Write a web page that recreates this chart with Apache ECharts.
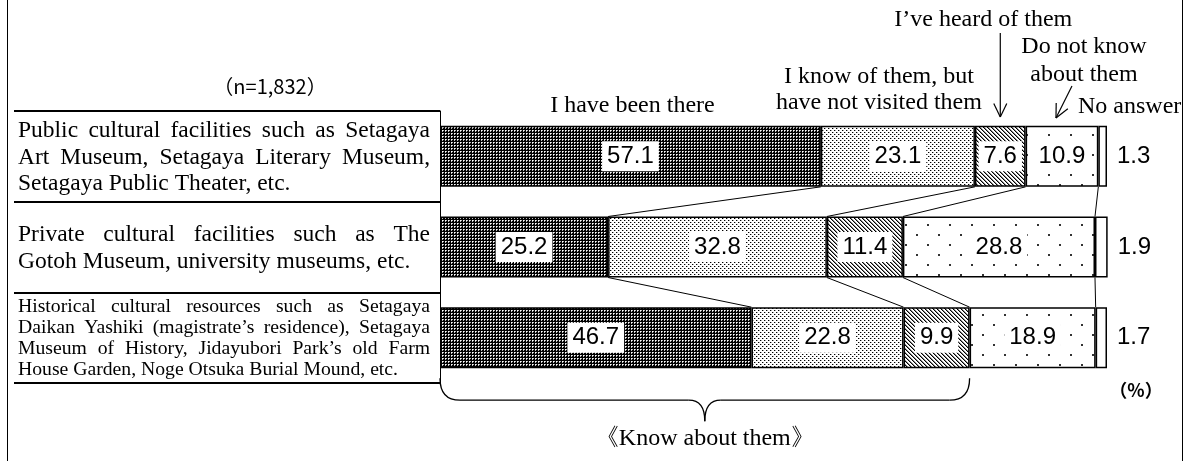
<!DOCTYPE html>
<html><head><meta charset="utf-8">
<script src="https://cdn.jsdelivr.net/npm/echarts@6/dist/echarts.min.js"></script>
<style>html,body{margin:0;padding:0;background:#fff}#c{width:1187px;height:461px}</style>
</head><body><div id="c"></div>
<script>
// ---------- data ----------
const categories = ['Public cultural facilities', 'Private cultural facilities', 'Historical cultural resources'];
const categoryLines = [
  ['Public cultural facilities such as Setagaya', 'Art Museum, Setagaya Literary Museum,', 'Setagaya Public Theater, etc.'],
  ['Private cultural facilities such as The', 'Gotoh Museum, university museums, etc.'],
  ['Historical cultural resources such as Setagaya', 'Daikan Yashiki  (magistrate’s residence), Setagaya', 'Museum of History, Jidayubori Park’s old Farm', 'House Garden, Noge Otsuka Burial Mound, etc.']
];
const seriesNames = ['I have been there', 'I know of them, but\nhave not visited them', 'I’ve heard of them', 'Do not know\nabout them', 'No answer'];
const beenThere = [57.1, 25.2, 46.7];
const knowNotVisited = [23.1, 32.8, 22.8];
const heardOf = [7.6, 11.4, 9.9];
const doNotKnow = [10.9, 28.8, 18.9];
const noAnswer = [1.3, 1.9, 1.7];
const sampleLabel = '（n=1,832）';
const unitLabel = '（%）';
const braceLabel = '《Know about them》';

// ---------- styles ----------
const SERIF = '"Liberation Serif", "Times New Roman", serif';
const NUM = '"Liberation Sans Narrow", "Arial Narrow", "Liberation Sans", sans-serif';
const GOTHIC = '"Noto Sans CJK JP", sans-serif';
const BAR_W = 61;

function makePattern(w, h, draw) {
  const c = document.createElement('canvas');
  c.width = w; c.height = h;
  const ctx = c.getContext('2d');
  draw(ctx);
  return { image: c, repeat: 'repeat' };
}
const pat1 = makePattern(3, 3, ctx => {
  ctx.fillStyle = '#000'; ctx.fillRect(0, 0, 3, 3);
  ctx.fillStyle = '#fff'; ctx.fillRect(1, 1, 1, 1);
  ctx.fillStyle = '#bbb'; ctx.fillRect(2, 1, 1, 1); ctx.fillRect(1, 2, 1, 1);
});
const pat2 = makePattern(4, 4, ctx => {
  ctx.fillStyle = '#fff'; ctx.fillRect(0, 0, 4, 4);
  ctx.fillStyle = '#000'; ctx.fillRect(0, 0, 1, 1); ctx.fillRect(2, 2, 1, 1);
  ctx.fillStyle = '#aaa'; ctx.fillRect(1, 0, 1, 1); ctx.fillRect(3, 2, 1, 1);
});
const pat3 = makePattern(4, 4, ctx => {
  ctx.fillStyle = '#fff'; ctx.fillRect(0, 0, 4, 4);
  for (let y = 0; y < 4; y++) for (let x = 0; x < 4; x++) {
    const d = ((x - y) % 4 + 4) % 4;
    if (d === 0) { ctx.fillStyle = '#000'; ctx.fillRect(x, y, 1, 1); }
    else if (d === 1) { ctx.fillStyle = '#888'; ctx.fillRect(x, y, 1, 1); }
  }
});
const pat4 = makePattern(22, 20, ctx => {
  ctx.fillStyle = '#fff'; ctx.fillRect(0, 0, 22, 20);
  ctx.fillStyle = '#333'; ctx.fillRect(3, 4, 2, 2); ctx.fillRect(14, 14, 2, 2);
});
const fills = [pat1, pat2, pat3, pat4, '#fff'];
const seriesData = [beenThere, knowNotVisited, heardOf, doNotKnow, noAnswer];

const chart = echarts.init(document.getElementById('c'));

// cumulative boundaries per category
const cum = categories.map((_, i) => {
  const arr = [0];
  seriesData.forEach(s => arr.push(+(arr[arr.length - 1] + s[i]).toFixed(1)));
  return arr;
});
const connectorData = [];
for (let i = 0; i < categories.length - 1; i++) {
  for (let k = 1; k <= 4; k++) connectorData.push([cum[i][k], cum[i + 1][k], i]);
}

const barSeries = seriesData.map((data, idx) => ({
  name: seriesNames[idx],
  type: 'bar',
  stack: 'total',
  barWidth: BAR_W,
  clip: false,
  data: data,
  itemStyle: { color: fills[idx], borderColor: '#000', borderWidth: 1.5 },
  label: idx < 4 ? {
    show: true, position: 'inside',
    formatter: p => p.value.toFixed(1),
    fontFamily: NUM, fontSize: 24, color: '#000',
    backgroundColor: '#fff', padding: [4, 5, 2, 5]
  } : {
    show: true, position: 'right', distance: 10,
    formatter: p => p.value.toFixed(1),
    fontFamily: NUM, fontSize: 24, color: '#000'
  }
}));

chart.setOption({
  animation: false,
  grid: { left: 440, right: 80, top: 111, bottom: 78 },
  xAxis: { type: 'value', min: 0, max: 100, show: false },
  yAxis: {
    type: 'category', inverse: true, data: categories,
    axisLine: { show: true, lineStyle: { color: '#000', width: 1 } },
    axisTick: { show: true, length: 426, lineStyle: { color: '#000', width: 2 } },
    axisLabel: { show: false },
    splitLine: { show: false }
  },
  series: barSeries.concat([{
    type: 'custom',
    data: connectorData,
    encode: { x: [0, 1], y: 2 },
    z: 1,
    silent: true,
    renderItem: (params, api) => {
      const a = api.coord([api.value(0), api.value(2)]);
      const b = api.coord([api.value(1), api.value(2) + 1]);
      return { type: 'line', shape: { x1: a[0], y1: a[1] + BAR_W / 2, x2: b[0], y2: b[1] - BAR_W / 2 },
               style: { stroke: '#000', lineWidth: 1 } };
    }
  }])
});

// ---------- annotations ----------
const xp = v => chart.convertToPixel({ xAxisIndex: 0 }, v);
const yp = i => chart.convertToPixel({ yAxisIndex: 0 }, i);
const mctx = document.createElement('canvas').getContext('2d');
const g = [];
function txt(x, y, text, opts) {
  g.push({ type: 'text', x: x, y: y, silent: true, z: 100,
    style: Object.assign({ text: text, fill: '#000', font: '24px ' + SERIF, align: 'center', verticalAlign: 'middle' }, opts || {}) });
}
function line(x1, y1, x2, y2, w) {
  g.push({ type: 'line', silent: true, z: 100, shape: { x1, y1, x2, y2 }, style: { stroke: '#000', lineWidth: w || 1.2 } });
}
function curve(x1, y1, cx, cy, x2, y2) {
  g.push({ type: 'bezierCurve', silent: true, z: 100, shape: { x1, y1, cpx1: cx, cpy1: cy, x2, y2 },
    style: { stroke: '#000', lineWidth: 1.3, fill: null } });
}
function arrow(x1, y1, x2, y2) {
  line(x1, y1, x2, y2);
  const dx = x1 - x2, dy = y1 - y2, L = Math.hypot(dx, dy);
  const ux = dx / L, uy = dy / L, len = 15, a = Math.PI / 7;
  [a, -a].forEach(t => {
    const rx = ux * Math.cos(t) - uy * Math.sin(t), ry = ux * Math.sin(t) + uy * Math.cos(t);
    line(x2, y2, x2 + rx * len, y2 + ry * len);
  });
}

// left category labels (justified text block)
const LX0 = 18, LX1 = 430;
categoryLines.forEach((lines, i) => {
  const fs = lines.length > 3 ? 19.7 : 23.5;
  const lh = lines.length > 3 ? 21 : 26.7;
  const font = fs + 'px ' + SERIF;
  mctx.font = font;
  const cy = yp(i) + 1;
  lines.forEach((ln, j) => {
    const y = cy + (j - (lines.length - 1) / 2) * lh;
    const last = j === lines.length - 1;
    if (last) {
      txt(LX0, y, ln, { font: font, align: 'left' });
    } else {
      const words = ln.split(/ +/);
      const widths = words.map(w => mctx.measureText(w).width);
      const total = widths.reduce((s, w) => s + w, 0);
      const gap = (LX1 - LX0 - total) / (words.length - 1);
      let x = LX0;
      words.forEach((w, k) => { txt(x, y, w, { font: font, align: 'left' }); x += widths[k] + gap; });
    }
  });
});

const c0 = cum[0];
// "I have been there"
txt(xp((c0[0] + c0[1]) / 2) + 2, 106, seriesNames[0]);
// "I know of them, but / have not visited them"
txt(xp((c0[1] + c0[2]) / 2) - 19, 90, seriesNames[1], { lineHeight: 26 });
// "I've heard of them"
const hx = xp((c0[2] + c0[3]) / 2);
txt(hx - 17, 20, seriesNames[2]);
arrow(hx, 33, hx, 117);
// "Do not know about them"
const dx = xp((c0[3] + c0[4]) / 2);
txt(dx + 22, 61, seriesNames[3], { lineHeight: 28 });
arrow(dx + 10, 86, dx - 6, 118);
// "No answer"
txt(xp(100) - 29, 107, seriesNames[4], { align: 'left' });
// sample size & unit
txt(270, 86, sampleLabel, { font: '20px ' + GOTHIC });
txt(1136, 390, unitLabel, { font: 'bold 18px ' + GOTHIC });

// brace under "know about them" part of the last bar
const last = categories.length - 1;
const bx0 = xp(0), bx1 = xp(cum[last][3]);
const bcx = (bx0 + bx1) / 2;
const by0 = yp(last) + BAR_W / 2 + 10, by1 = by0 + 22, btip = by1 + 21;
curve(bx0, by0, bx0, by1, bx0 + 20, by1);
line(bx0 + 20, by1, bcx - 16, by1, 1.3);
curve(bcx - 16, by1, bcx, by1, bcx, btip);
curve(bcx, btip, bcx, by1, bcx + 16, by1);
line(bcx + 16, by1, bx1 - 20, by1, 1.3);
curve(bx1 - 20, by1, bx1, by1, bx1, by0);
txt(bcx, btip + 18, braceLabel);

// outer frame
g.push({ type: 'rect', silent: true, z: 100, shape: { x: 7.5, y: -5, width: 1175, height: 475 },
  style: { stroke: '#000', lineWidth: 1, fill: null } });

chart.setOption({ graphic: g });
</script>
</body></html>
